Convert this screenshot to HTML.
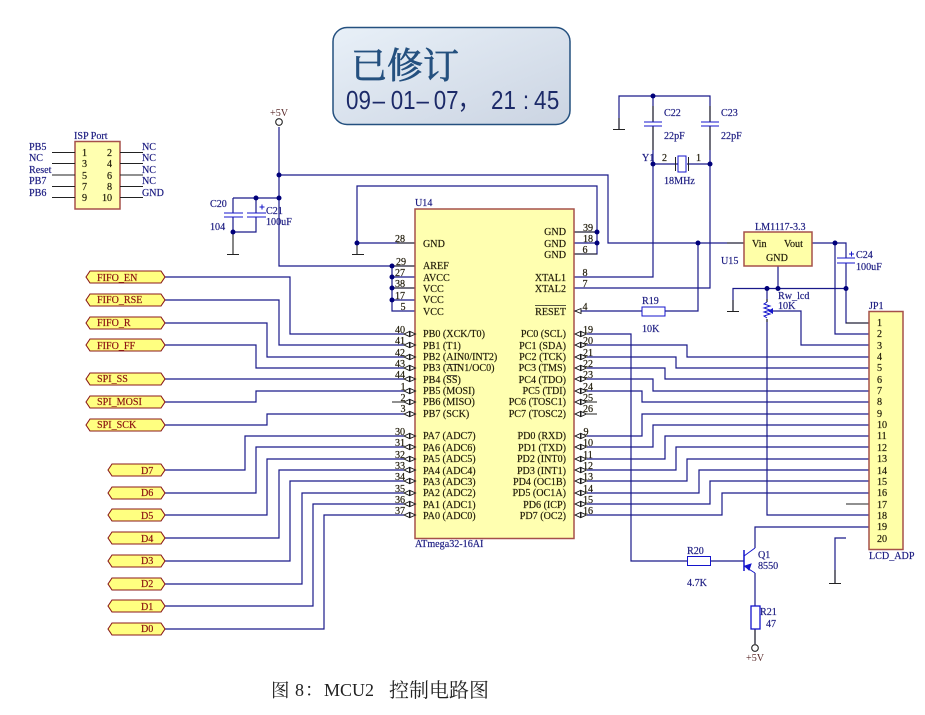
<!DOCTYPE html>
<html><head><meta charset="utf-8"><style>
html,body{margin:0;padding:0;background:#fff}
svg{display:block}
text{font-family:"Liberation Serif","Noto Serif CJK SC",serif;font-size:10.1px}
.w{fill:none;stroke:#1a1a8a;stroke-width:1.2}
.p{fill:none;stroke:#222;stroke-width:1.1}
.bl text,text.bl{fill:#1a1a80;stroke:#1a1a80;stroke-width:.18}
.dk text,text.dk{fill:#1f1a08;stroke:#1f1a08;stroke-width:.18}
.rd text{fill:#8a1010;stroke:#8a1010;stroke-width:.18}
.j{fill:#00007a}
.e{text-anchor:end}
.m{text-anchor:middle}
</style></head><body>
<svg width="925" height="715" viewBox="0 0 925 715" xmlns="http://www.w3.org/2000/svg">
<defs>
<linearGradient id="g" x1="0" y1="0" x2="1" y2="1"><stop offset="0" stop-color="#e8f0f8"/><stop offset="1" stop-color="#cbd4e2"/></linearGradient>
<g id="b" fill="#fff" stroke="#111" stroke-width=".9"><path d="M0 0l5.500-2.500v5zM11.500 0l-5.500-2.500v5z"/></g>
<path id="fl" d="M86 0l4-6h71l4 6-4 6H90z" fill="#ffff80" stroke="#8b1a1a" stroke-width="1.100"/>
<path id="dl" d="M108 0l4-6h49l4 6-4 6h-49z" fill="#ffff80" stroke="#8b1a1a" stroke-width="1.100"/>
</defs>
<rect width="925" height="715" fill="#fff"/>

<!-- callout -->
<rect x="333" y="27.500" width="237" height="97" rx="14" fill="url(#g)" stroke="#24507f" stroke-width="1.500"/>
<text x="351" y="78" style="font-size:36px;font-family:'Noto Serif CJK SC',serif;stroke:#24507f;stroke-width:.7" fill="#24507f">已修订</text>
<text transform="translate(346,109) scale(.86,1)" x="0 14.500 31 52 66.500 82 102 116.500 130" y="0" style="font-size:26px;font-family:'Liberation Sans','Noto Sans CJK SC',sans-serif" fill="#1c2a68">09–01–07，</text>
<text transform="translate(491,109) scale(.86,1)" x="0 14.500 37 50 65" y="0" style="font-size:26px;font-family:'Liberation Sans',sans-serif" fill="#1c2a68">21:45</text>

<!-- ISP -->
<rect x="75" y="141.500" width="45" height="67.500" fill="#ffffb0" stroke="#a5504a" stroke-width="1.500"/>
<path class="p" d="M52 152.500h23M52 163.500h23M52 175h23M52 186.500h23M52 197.500h23M120 152.500h23M120 163.500h23M120 175h23M120 186.500h23M120 197.500h23"/>
<text x="74" y="139" class="bl">ISP Port</text>
<g class="bl"><text x="29" y="150">PB5</text><text x="29" y="161">NC</text><text x="29" y="173">Reset</text><text x="29" y="184">PB7</text><text x="29" y="196">PB6</text>
<text x="142" y="150">NC</text><text x="142" y="161">NC</text><text x="142" y="173">NC</text><text x="142" y="184">NC</text><text x="142" y="196">GND</text></g>
<g class="dk m"><text x="84.500" y="156">1</text><text x="84.500" y="167">3</text><text x="84.500" y="179">5</text><text x="84.500" y="190">7</text><text x="84.500" y="201">9</text>
<text x="109.500" y="156">2</text><text x="109.500" y="167">4</text><text x="109.500" y="179">6</text><text x="109.500" y="190">8</text><text x="107" y="201">10</text></g>

<!-- wires -->
<g class="w">
<path d="M279 127V266H392M279 175H608V243H744M233 198H279M233 198V213M256 198V213M233 217V232M256 217V232H233"/>
<path d="M357 243V186H597V254H574M574 232H597M574 243H597M357 243H415"/>
<path d="M392 266V311H415M392 277H415M392 288H415M392 300H415M392 266H415"/>
<path d="M165 277H290V334H404M165 300H279V345H404M165 323H267V357H404M165 345H256V368H404M165 379H404M165 402H256V391H404M165 425H267V414H404"/>
<path d="M165 470H245V436H404M165 493H256V447H404M165 515H267V459H404M165 538H279V470H404M165 561H290V481H404M165 584H302V493H404M165 606H313V504H404M165 629H324V515H404"/>
<path d="M587 334H631V561H687M587 345H687V357H869M587 357H676V368H869M587 368H665V379H869M587 379H653V391H869M587 391H642V402H869"/>
<path d="M587 436H642V414H869M587 447H653V425H869M587 459H665V436H869M587 470H676V447H869M587 481H687V459H869M587 493H699V470H869M587 504H710V481H869M587 515H722V493H869"/>
<path d="M574 277H653V126M653 122V96M619 129V96H710V122M710 126V288H574M653 164H678M687 164H710"/>
<path d="M574 311H642M665 311H698V243M812 243H846V258M846 263V323H869M835 243V334H869M733 311V288.500H846M778 266V288.500M767 288.500V302M767 319V515H869M771 311H801V345H869"/>
<path d="M755 548V527H869M755 573V606M846 538H835V583M710 561H744M755 629V644"/>
</g>
<!-- pin stubs -->
<path class="p" d="M392 402H404M587 402H597M587 414H597M846 504H869M397 243H415M392 266H415M392 288H415M574 232H597M574 254H597M846 323H869"/>
<path class="p" d="M653 106V122M653 126V150M710 106V122M710 126V150M727 243H744M767 299V302M767 319V322M733 300V311M835 570V583M233 232V254M357 243V254M619 118V129M755 629V644"/>

<!-- grounds -->
<path d="M227 254.500h12M352 254.500h12M613 129.500h12M727 311.500h12M829 583.500h12" stroke="#222" stroke-width="1" fill="none"/>

<!-- +5V -->
<circle cx="279" cy="122" r="3.300" fill="#fff" stroke="#222" stroke-width="1.100"/>
<circle cx="755" cy="648" r="3.300" fill="#fff" stroke="#222" stroke-width="1.100"/>
<text x="270" y="116" fill="#5a2a2a">+5V</text>
<text x="746" y="661" fill="#5a2a2a">+5V</text>

<!-- caps -->
<path d="M224 213h19M224 217h19M247 213h19M247 217h19M644 122h18M644 126h18M701 122h18M701 126h18M837 258h18M837 263h18" stroke="#1414cc" stroke-width="1.100" fill="none"/>
<path d="M259.500 207h5M262 204.500v5M849 254h5M851.500 251.500v5" stroke="#1414cc" stroke-width="1" fill="none"/>

<!-- U14 -->
<rect x="415" y="209" width="159" height="329.500" fill="#ffffb0" stroke="#a5504a" stroke-width="1.500"/>
<text x="415" y="206" class="bl">U14</text>
<text x="415" y="547" class="bl">ATmega32-16AI</text>
<g class="dk">
<text x="423" y="247">GND</text><text x="423" y="269">AREF</text><text x="423" y="281">AVCC</text><text x="423" y="292">VCC</text><text x="423" y="303">VCC</text><text x="423" y="315">VCC</text>
<text x="423" y="337">PB0 (XCK/T0)</text><text x="423" y="349">PB1 (T1)</text><text x="423" y="360">PB2 (AIN0/INT2)</text><text x="423" y="371">PB3 (AIN1/OC0)</text><text x="423" y="383">PB4 (SS)</text><text x="423" y="394">PB5 (MOSI)</text><text x="423" y="405">PB6 (MISO)</text><text x="423" y="417">PB7 (SCK)</text>
<text x="423" y="439">PA7 (ADC7)</text><text x="423" y="451">PA6 (ADC6)</text><text x="423" y="462">PA5 (ADC5)</text><text x="423" y="474">PA4 (ADC4)</text><text x="423" y="485">PA3 (ADC3)</text><text x="423" y="496">PA2 (ADC2)</text><text x="423" y="508">PA1 (ADC1)</text><text x="423" y="519">PA0 (ADC0)</text>
</g>
<g class="dk e">
<text x="566" y="235">GND</text><text x="566" y="247">GND</text><text x="566" y="258">GND</text><text x="566" y="281">XTAL1</text><text x="566" y="292">XTAL2</text><text x="566" y="315">RESET</text>
<text x="566" y="337">PC0 (SCL)</text><text x="566" y="349">PC1 (SDA)</text><text x="566" y="360">PC2 (TCK)</text><text x="566" y="371">PC3 (TMS)</text><text x="566" y="383">PC4 (TDO)</text><text x="566" y="394">PC5 (TDI)</text><text x="566" y="405">PC6 (TOSC1)</text><text x="566" y="417">PC7 (TOSC2)</text>
<text x="566" y="439">PD0 (RXD)</text><text x="566" y="451">PD1 (TXD)</text><text x="566" y="462">PD2 (INT0)</text><text x="566" y="474">PD3 (INT1)</text><text x="566" y="485">PD4 (OC1B)</text><text x="566" y="496">PD5 (OC1A)</text><text x="566" y="508">PD6 (ICP)</text><text x="566" y="519">PD7 (OC2)</text>
</g>
<path d="M535 305.500h31M446 364.500h12M446 375.500h11" stroke="#222" stroke-width=".8" fill="none"/>

<!-- pin numbers -->
<g class="dk m">
<text x="400" y="242">28</text><text x="401" y="265">29</text><text x="400" y="276">27</text><text x="400" y="287">38</text><text x="400" y="299">17</text><text x="403" y="310">5</text>
<text x="400" y="333">40</text><text x="400" y="344">41</text><text x="400" y="356">42</text><text x="400" y="367">43</text><text x="400" y="378">44</text><text x="403" y="390">1</text><text x="403" y="401">2</text><text x="403" y="412">3</text>
<text x="400" y="435">30</text><text x="400" y="446">31</text><text x="400" y="458">32</text><text x="400" y="469">33</text><text x="400" y="480">34</text><text x="400" y="492">35</text><text x="400" y="503">36</text><text x="400" y="514">37</text>
<text x="588" y="231">39</text><text x="588" y="242">18</text><text x="585" y="253">6</text><text x="585" y="276">8</text><text x="585" y="287">7</text><text x="585" y="310">4</text>
<text x="588" y="333">19</text><text x="588" y="344">20</text><text x="588" y="356">21</text><text x="588" y="367">22</text><text x="588" y="378">23</text><text x="588" y="390">24</text><text x="588" y="401">25</text><text x="588" y="412">26</text>
<text x="586" y="435">9</text><text x="588" y="446">10</text><text x="588" y="458">11</text><text x="588" y="469">12</text><text x="588" y="480">13</text><text x="588" y="492">14</text><text x="588" y="503">15</text><text x="588" y="514">16</text>
</g>

<!-- bidir pin symbols -->
<use href="#b" x="404" y="334"/><use href="#b" x="404" y="345"/><use href="#b" x="404" y="357"/><use href="#b" x="404" y="368"/><use href="#b" x="404" y="379"/><use href="#b" x="404" y="391"/><use href="#b" x="404" y="402"/><use href="#b" x="404" y="414"/>
<use href="#b" x="404" y="436"/><use href="#b" x="404" y="447"/><use href="#b" x="404" y="459"/><use href="#b" x="404" y="470"/><use href="#b" x="404" y="481"/><use href="#b" x="404" y="493"/><use href="#b" x="404" y="504"/><use href="#b" x="404" y="515"/>
<use href="#b" x="575" y="334"/><use href="#b" x="575" y="345"/><use href="#b" x="575" y="357"/><use href="#b" x="575" y="368"/><use href="#b" x="575" y="379"/><use href="#b" x="575" y="391"/><use href="#b" x="575" y="402"/><use href="#b" x="575" y="414"/>
<use href="#b" x="575" y="436"/><use href="#b" x="575" y="447"/><use href="#b" x="575" y="459"/><use href="#b" x="575" y="470"/><use href="#b" x="575" y="481"/><use href="#b" x="575" y="493"/><use href="#b" x="575" y="504"/><use href="#b" x="575" y="515"/>
<path d="M575 311l6-2.500v5z" fill="#fff" stroke="#111" stroke-width=".9"/>

<!-- net labels -->
<use href="#fl" y="277"/><use href="#fl" y="300"/><use href="#fl" y="323"/><use href="#fl" y="345"/><use href="#fl" y="379"/><use href="#fl" y="402"/><use href="#fl" y="425"/>
<use href="#dl" y="470"/><use href="#dl" y="493"/><use href="#dl" y="515"/><use href="#dl" y="538"/><use href="#dl" y="561"/><use href="#dl" y="584"/><use href="#dl" y="606"/><use href="#dl" y="629"/>
<g class="rd">
<text x="97" y="281">FIFO_EN</text><text x="97" y="303">FIFO_RSE</text><text x="97" y="326">FIFO_R</text><text x="97" y="349">FIFO_FF</text><text x="97" y="382">SPI_SS</text><text x="97" y="405">SPI_MOSI</text><text x="97" y="428">SPI_SCK</text>
<text x="141" y="474">D7</text><text x="141" y="496">D6</text><text x="141" y="519">D5</text><text x="141" y="542">D4</text><text x="141" y="564">D3</text><text x="141" y="587">D2</text><text x="141" y="610">D1</text><text x="141" y="632">D0</text>
</g>

<!-- passive labels -->
<g class="bl">
<text x="210" y="207">C20</text><text x="210" y="230">104</text><text x="266" y="214">C21</text><text x="266" y="225">100uF</text>
<text x="664" y="116">C22</text><text x="664" y="139">22pF</text><text x="721" y="116">C23</text><text x="721" y="139">22pF</text>
<text x="642" y="161">Y1</text><text x="664" y="184">18MHz</text>
<text x="642" y="304">R19</text><text x="642" y="332">10K</text>
<text x="687" y="554">R20</text><text x="687" y="586">4.7K</text><text x="760" y="615">R21</text><text x="766" y="627">47</text>
<text x="758" y="558">Q1</text><text x="758" y="569">8550</text>
<text x="755" y="230">LM1117-3.3</text><text x="721" y="264">U15</text>
<text x="856" y="258">C24</text><text x="856" y="270">100uF</text>
<text x="778" y="299">Rw_lcd</text><text x="778" y="309">10K</text>
<text x="869" y="309">JP1</text><text x="869" y="559">LCD_ADP</text>
</g>
<g class="dk"><text x="662" y="161">2</text><text x="696" y="161">1</text></g>

<!-- crystal -->
<rect x="678" y="156" width="8" height="16" fill="#fff" stroke="#1414cc"/>
<path d="M675.500 157v14M688.500 157v14" stroke="#222" fill="none"/>

<!-- resistors -->
<rect x="642" y="307" width="23" height="9" fill="#fff" stroke="#1414cc"/>
<rect x="687.500" y="556.500" width="23" height="9" fill="#fff" stroke="#1414cc"/>
<rect x="751" y="606" width="9" height="23" fill="#fff" stroke="#1414cc" stroke-width="1.300"/>

<!-- pot -->
<path d="M767 302l-3 2 6 2-6 2 6 2-6 2 6 2-6 2 3 2" fill="none" stroke="#1414cc"/>
<path d="M768 311l5-3v6z" fill="#1414cc"/>

<!-- Q1 -->
<path d="M744 550v21" stroke="#1414cc" stroke-width="1.500" fill="none"/>
<path d="M744 556l11-8M744 566l11 7" stroke="#1414cc" fill="none"/>
<path d="M745 566l6-2-2 6z" fill="#1414cc" stroke="#1414cc"/>

<!-- U15 -->
<rect x="744" y="232" width="68" height="34" fill="#ffffa8" stroke="#a5504a" stroke-width="1.500"/>
<g class="dk"><text x="752" y="247">Vin</text><text x="784" y="247">Vout</text><text x="766" y="261">GND</text></g>

<!-- JP1 -->
<rect x="869" y="311.500" width="34" height="238" fill="#ffffa8" stroke="#a5504a" stroke-width="1.500"/>
<g class="dk">
<text x="877" y="326">1</text><text x="877" y="337">2</text><text x="877" y="349">3</text><text x="877" y="360">4</text><text x="877" y="371">5</text><text x="877" y="383">6</text><text x="877" y="394">7</text><text x="877" y="405">8</text><text x="877" y="417">9</text>
<text x="877" y="428">10</text><text x="877" y="439">11</text><text x="877" y="451">12</text><text x="877" y="462">13</text><text x="877" y="474">14</text><text x="877" y="485">15</text><text x="877" y="496">16</text><text x="877" y="508">17</text><text x="877" y="519">18</text><text x="877" y="530">19</text><text x="877" y="542">20</text>
</g>

<!-- junctions -->
<g class="j">
<circle cx="279" cy="175" r="2.500"/><circle cx="279" cy="198" r="2.500"/><circle cx="256" cy="198" r="2.500"/><circle cx="233" cy="232" r="2.500"/>
<circle cx="357" cy="243" r="2.500"/><circle cx="392" cy="266" r="2.500"/><circle cx="392" cy="277" r="2.500"/><circle cx="392" cy="288" r="2.500"/><circle cx="392" cy="300" r="2.500"/>
<circle cx="597" cy="232" r="2.500"/><circle cx="597" cy="243" r="2.500"/>
<circle cx="653" cy="96" r="2.500"/><circle cx="653" cy="164" r="2.500"/><circle cx="710" cy="164" r="2.500"/><circle cx="698" cy="243" r="2.500"/><circle cx="835" cy="243" r="2.500"/>
<circle cx="767" cy="288.500" r="2.500"/><circle cx="778" cy="288.500" r="2.500"/><circle cx="846" cy="288.500" r="2.500"/>
</g>

<!-- caption -->
<g style="fill:#222">
<text x="271" y="697" style="font-size:18.500px">图</text>
<text x="295" y="696" style="font-size:18px">8</text>
<text x="305" y="696" style="font-size:18px;font-family:'Noto Serif CJK SC',serif">：</text>
<text x="324" y="696" style="font-size:18px">MCU2</text>
<text x="389" y="697" style="font-size:20px">控制电路图</text>
</g>
</svg>
</body></html>
